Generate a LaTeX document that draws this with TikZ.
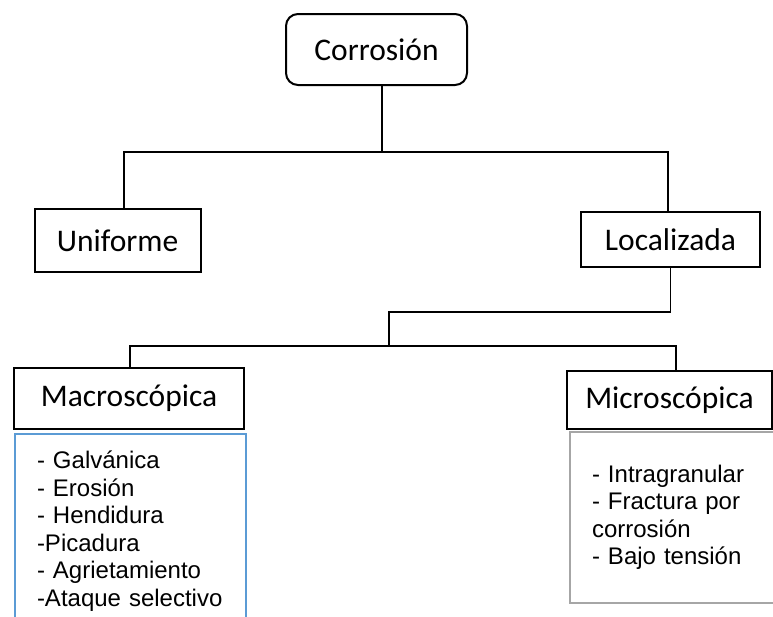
\documentclass[tikz,border=0pt]{standalone}
\usepackage{fontspec}
\setmainfont{Carlito}
\newfontfamily\listfont{Liberation Sans}
\usetikzlibrary{positioning}
\definecolor{listblue}{RGB}{91,155,213}
\definecolor{listgray}{RGB}{166,166,166}
\tikzset{
  block/.style={
    draw,
    rectangle,
    line width=2pt,
    inner sep=0pt,
    align=center,
    font=\fontsize{31.5}{36}\selectfont
  },
  rootblock/.style={
    block,
    rounded corners=12pt
  },
  listbox/.style={
    draw,
    rectangle,
    line width=2pt,
    anchor=north west,
    align=left,
    inner xsep=22pt,
    inner ysep=17pt,
    font=\listfont\fontsize{24}{27.5}\selectfont
  },
  line/.style={line width=1.2pt}
}

\begin{document}
\begin{tikzpicture}[x=1pt,y=-1pt]
\useasboundingbox (0,0) rectangle (773,616);

% root
\node[rootblock, minimum width=181pt, minimum height=71pt] (corrosion) at (376.5,49.5) {Corrosión};

% first level
\node[block, minimum width=166pt, minimum height=63pt] (uniforme) at (117.5,240.5) {Uniforme};
\node[block, minimum width=179pt, minimum height=55pt] (localizada) at (670.5,239.5) {Localizada};

% second level
\node[block, minimum width=230pt, minimum height=61pt] (macro) at (129,398.5) {Macroscópica};
\node[block, minimum width=205pt, minimum height=58pt] (micro) at (669.5,400) {Microscópica};

% lists
\node[listbox, draw=listblue, text width=187pt] (macrolist) at (14,433) {- Galvánica\\- Erosión\\- Hendidura\\-Picadura\\- Agrietamiento\\-Ataque selectivo};
\node[listbox, draw=listgray, text width=162pt, inner ysep=33pt] (microlist) at (569,431) {- Intragranular\\- Fractura por\\corrosión\\- Bajo tensión};

% connectors
\coordinate (rootjoint) at (382,152);
\coordinate (locjoint) at (389,312);
\coordinate (lowjoint) at (389,346);

\draw[line] (corrosion.south -| rootjoint) -- (rootjoint);
\draw[line] ([xshift=6.5pt]uniforme.north) |- (rootjoint) -| ([xshift=-2.5pt]localizada.north);

\draw[line] (localizada.south) |- (locjoint) -- (lowjoint);
\draw[line] ([xshift=1pt]macro.north) |- (lowjoint) -| ([xshift=6.5pt]micro.north);

\end{tikzpicture}
\end{document}
